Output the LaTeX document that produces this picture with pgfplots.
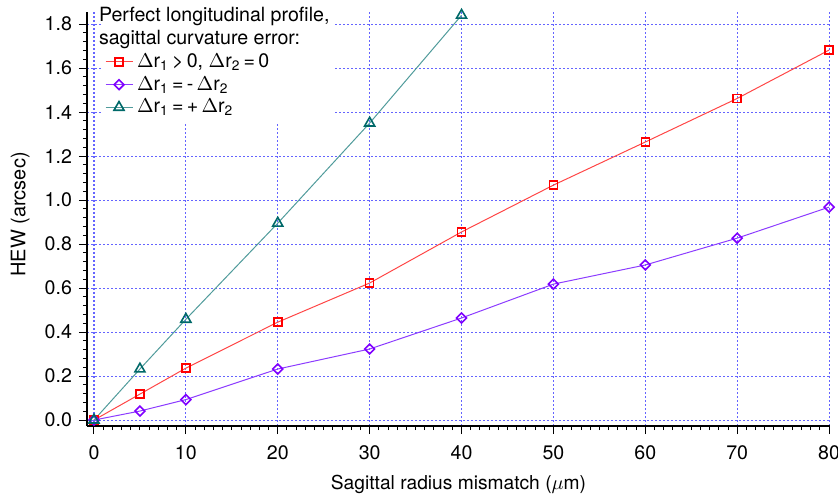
\documentclass[border=0pt]{standalone}
\usepackage{pgfplots}
\pgfplotsset{compat=1.18}
\usepackage{fontspec}
\setmainfont{TeX Gyre Heros}

\definecolor{cred}{RGB}{255,0,0}
\definecolor{credl}{RGB}{255,70,70}
\definecolor{cpur}{RGB}{128,0,255}
\definecolor{cpurl}{RGB}{140,60,255}
\definecolor{cteal}{RGB}{0,105,105}
\definecolor{cteall}{RGB}{80,155,155}
\definecolor{cgrid}{RGB}{100,100,255}

\begin{document}
\begin{tikzpicture}
\begin{axis}[
  width=371.5pt, height=207pt, scale only axis,
  xmin=-0.76, xmax=80.1, ymin=-0.027, ymax=1.855,
  axis x line*=bottom, axis y line*=left,
  axis line style={line width=0.75pt, -},
  xtick={0,10,...,80}, ytick={0,0.2,...,1.8},
  minor x tick num=9, minor y tick num=4,
  tick align=outside, major tick length=4pt, minor tick length=2pt,
  tick style={black, line width=0.5pt},
  grid=major,
  major grid style={cgrid, line width=0.55pt, dash pattern=on 1pt off 1pt},
  yticklabel style={/pgf/number format/.cd, fixed, fixed zerofill, precision=1},
  /pgf/number format/assume math mode=true,
  tick label style={font=\fontsize{9.8}{11}\selectfont},
  xticklabel style={yshift=-2.5pt},
  xlabel={Sagittal radius mismatch ($\mu$m)},
  ylabel={HEW (arcsec)},
  label style={font=\fontsize{9.6}{11}\selectfont},
  ylabel style={font=\fontsize{10}{11}\selectfont},
  xlabel style={at={(axis description cs:0.5,-0.14)}, anchor=center},
  ylabel style={at={(axis description cs:-0.09,0.511)}, anchor=center},
  legend style={at={(axis description cs:0.021,1.028)}, anchor=north west, draw=none, fill=white,
    font=\fontsize{9.8}{11}\selectfont, row sep=-1pt, inner sep=1pt},
  legend cell align=left,
  legend image code/.code={\draw[mark repeat=2,mark phase=2,#1] plot coordinates {(0pt,0pt) (6.75pt,0pt) (13.5pt,0pt)};},
]
\addlegendimage{empty legend}
\addlegendentry{\hspace*{-19pt}Perfect longitudinal profile,}
\addlegendimage{empty legend}
\addlegendentry{\hspace*{-19pt}sagittal curvature error:}

\addplot[credl, line width=0.5pt, mark=square, mark size=2pt,
  mark options={cred, fill=white, line width=0.8pt, solid}] coordinates {
(0,0) (5,0.118) (10,0.236) (20,0.445) (30,0.623) (40,0.855) (50,1.068) (60,1.264) (70,1.462) (80,1.682)};
\addlegendentry{$\Delta$r\textsubscript{1}\,>\,0, $\Delta$r\textsubscript{2}\,=\,0}

\addplot[cpurl, line width=0.5pt, mark=square, mark size=1.75pt,
  mark options={cpur, rotate=45, fill=white, line width=0.8pt, solid}] coordinates {
(0,0) (5,0.041) (10,0.093) (20,0.232) (30,0.323) (40,0.464) (50,0.618) (60,0.705) (70,0.827) (80,0.968)};
\addlegendentry{$\Delta$r\textsubscript{1}\,=\,-\,$\Delta$r\textsubscript{2}}

\addplot[cteall, line width=0.5pt, mark=triangle, mark size=2.9pt,
  mark options={cteal, fill=white, line width=0.8pt, solid}] coordinates {
(0,0) (5,0.232) (10,0.458) (20,0.895) (30,1.35) (40,1.84)};
\addlegendentry{$\Delta$r\textsubscript{1}\,=\,+\,$\Delta$r\textsubscript{2}}
\end{axis}
\pgfresetboundingbox
\path (-43.5pt,-36pt) rectangle (375.5pt,213pt);
\end{tikzpicture}
\end{document}
